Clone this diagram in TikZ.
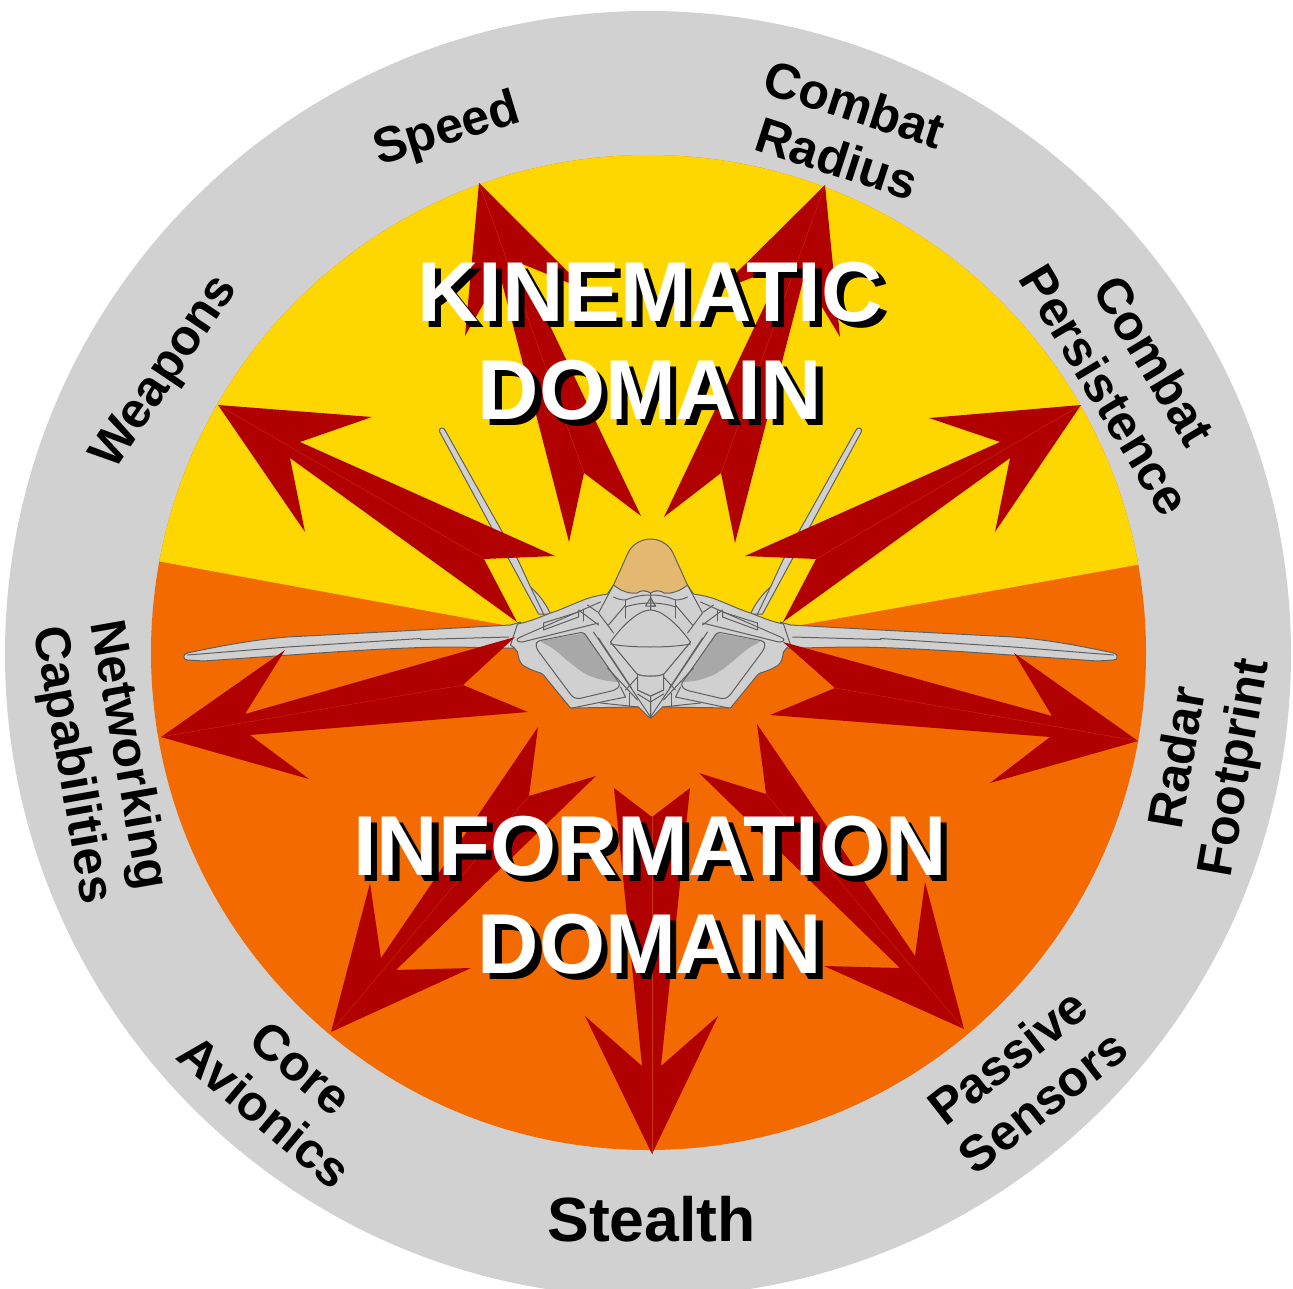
\documentclass[tikz,border=0pt]{standalone}
\usepackage{fontspec}
\setmainfont{Liberation Sans}
\definecolor{ringgray}{HTML}{D1D1D1}
\definecolor{kinyellow}{HTML}{FFD700}
\definecolor{infoorange}{HTML}{F36A00}
\definecolor{arrowred}{HTML}{B00000}
\definecolor{seamcol}{HTML}{C83800}
\definecolor{jetline}{HTML}{606060}
\definecolor{jetfill}{HTML}{D0D0D0}
\definecolor{jetdark}{HTML}{A8A8A8}
\definecolor{canopytan}{HTML}{E3B871}
\tikzset{
  redarrow/.style={fill=arrowred},
  seam/.style={draw=seamcol,line width=0.35pt},
  jetpart/.style={draw=jetline,fill=jetfill,line width=1pt,line join=round},
  jetdetail/.style={draw=jetline,line width=1pt,line join=round,line cap=round},
  ringlabel/.style={font=\fontsize{50}{57}\selectfont\bfseries,align=center,text=black,inner sep=0pt},
  domaintext/.style={font=\fontsize{85}{98}\selectfont\bfseries,align=center,inner sep=0pt}
}
\begin{document}
\begin{tikzpicture}[x=1pt,y=-1pt]
\useasboundingbox (0,0) rectangle (1293,1289);
\fill[white] (0,0) rectangle (1293,1289);
\begin{scope}
\clip (0,0) rectangle (1293,1289);
\fill[ringgray] (648,654) circle[radius=643pt];
\end{scope}
\fill[infoorange] (648.5,652.5) circle[radius=497.5pt];
\begin{scope}
\clip (648.5,652.5) circle[radius=497.5pt];
\fill[kinyellow] (650,652) -- (0,532) -- (0,0) -- (1293,0) -- (1293,537) -- cycle;
\end{scope}
% jet: shapes mirrored around the centre line
\foreach \s in {1,-1}{
\begin{scope}[shift={(650.5,0)},xscale=\s]
  % fin
  \draw[jetpart] (100,614) .. controls (105,603) and (112,594) .. (120,587) -- (132.5,560) -- (205,431)
     .. controls (206,427) and (212,427) .. (211,431.5) -- (112,614) -- cycle;
  \draw[jetdetail] (119.5,588) -- (106.5,615);
  % wing
  \draw[jetpart] (130,622) -- (140,625) -- (230,630) -- (363,637)
     .. controls (400,640) and (435,647) .. (463,653)
     .. controls (468,654) and (468,660) .. (463,660)
     -- (447,661) -- (317,652) .. controls (270,649) and (230,647) .. (197,647)
     -- (150,648) -- (130,648) -- cycle;
  \draw[jetdetail] (142,637) -- (230,639.5) -- (230,638.5) -- (363,647) -- (463,655);
  % body
  \draw[jetpart] (0,592) -- (37,585) -- (43,594)
     .. controls (50,595) and (60,597) .. (67,600)
     .. controls (80,605) and (90,610) .. (100,613)
     .. controls (110,617) and (122,622) .. (133,624)
     -- (140,645) .. controls (135,648) and (135,650) .. (133,652)
     .. controls (132,658) and (131,662) .. (128,665)
     .. controls (122,669) and (116,671) .. (113,672)
     .. controls (109,673) and (108,674) .. (107,675)
     -- (80,708) -- (12,707) -- (3,716) .. controls (1,718) and (-1,718) .. (0,718) -- cycle;
  % strake
  \draw[jetdetail] (50,602) -- (130,637) .. controls (135,639) and (135,642) .. (128,642) -- (52,623);
  \draw[jetdetail] (72,612) -- (107,623) -- (107,630) -- (72,617) -- cycle;
  \draw[jetdetail] (67,610) -- (67,621);
  \draw[jetdetail] (53,612) -- (63,605);
  \draw[jetdetail] (52,625) -- (72,610);
  % intake
  \fill[jetdark] (65.5,633) -- (110,641) .. controls (107,644) and (103,645) .. (100,647)
     .. controls (92,652) and (87,658) .. (80,663)
     .. controls (75,667) and (69,672) .. (63,675)
     .. controls (55,678) and (50,680) .. (43,681) -- (33,682) -- cycle;
  \draw[jetdetail,rounded corners=3pt] (67,632) -- (113,641) -- (115,645) -- (113,650) -- (78,697) -- (73,699) -- (35,690) -- (30,685) -- cycle;
  % centre structure
  \draw[jetdetail] (57,632) -- (0,717);
  \draw[jetdetail] (52,638) -- (19,688);
  \draw[jetdetail] (43,668) -- (13,700);
  \draw[jetdetail] (40,642) -- (13,674);
  \draw[jetdetail] (32,650) -- (10,676);
  \draw[jetdetail] (25,690) -- (13,677);
  \draw[jetdetail] (13,690) -- (0,696);
  \draw[jetdetail] (13,694) -- (0,702);
  \draw[jetdetail] (21,693) -- (21,707);
  \draw[jetdetail] (30,687) -- (25,697) -- (78,708);
  \draw[jetdetail] (12,707) -- (50,703);
  \draw[jetdetail] (37,585) -- (52,613) -- (37,633);
  \draw[jetdetail] (25,605) -- (42,625);
  \draw[jetdetail] (25,600) -- (25,618);
  \draw[jetdetail] (25,600) .. controls (15,596) and (8,595) .. (0,595);
  \draw[jetdetail] (37,597) .. controls (33,599) and (29,600) .. (25,600);
  \draw[jetdetail] (25,607) .. controls (20,605) and (10,603) .. (0,603);
  \draw[jetdetail] (0,598) -- (5,606) -- (-5,606) -- cycle;
\end{scope}}
% dome and tail box
\draw[jetpart] (610.5,642) .. controls (625,622) and (640,610) .. (650.5,610)
   .. controls (661,610) and (676,622) .. (690.5,642)
   -- (664,674) .. controls (660,677) and (641,677) .. (637,674) -- cycle;
\draw[jetdetail] (610.5,644) .. controls (630,648) and (671,648) .. (690.5,644);
\draw[jetpart] (637.5,674) .. controls (641,677) and (660,677) .. (663.5,674) -- (663.5,690) -- (650.5,696) -- (637.5,690) -- cycle;
% canopy
\draw[draw=jetline,fill=canopytan,line width=1pt,line join=round]
  (613.5,585) -- (628,553) .. controls (632,544) and (642,539) .. (650.5,539)
  .. controls (659,539) and (669,544) .. (673,553) -- (687.5,585)
  .. controls (680,591) and (672,594) .. (664,593)
  .. controls (660,590) and (655,590) .. (650.5,593)
  .. controls (646,590) and (641,590) .. (637,593)
  .. controls (629,594) and (621,591) .. (613.5,585) -- cycle;
% arrows
\fill[redarrow] (218,405) -- (372,417) -- (300,442) -- (555,556) -- (484,559) -- (517,622) -- (290,458) -- (305,532) -- cycle;
\draw[seam] (218,405) -- (484,559);
\fill[redarrow] (1081,405) -- (929,418) -- (1000,442) -- (745,556) -- (816,559) -- (783,622) -- (1010,458) -- (995,532) -- cycle;
\draw[seam] (1081,405) -- (816,559);
\fill[redarrow] (479,183) -- (586,290) -- (520,263) -- (641,516) -- (584,473) -- (569,542) -- (500,275) -- (465,336) -- cycle;
\draw[seam] (479,183) -- (584,473);
\fill[redarrow] (825,185) -- (718,291) -- (784,265) -- (664,517) -- (721,473) -- (735,543) -- (804,277) -- (840,337) -- cycle;
\draw[seam] (825,185) -- (721,473);
\fill[redarrow] (161,737) -- (285,650) -- (245,714) -- (515,637) -- (463,685) -- (528,712) -- (250,735) -- (309,779) -- cycle;
\draw[seam] (161,737) -- (463,685);
\fill[redarrow] (1138,741) -- (1014,653) -- (1052,716) -- (783,642) -- (835,688) -- (770,715) -- (1050,737) -- (990,783) -- cycle;
\draw[seam] (1138,741) -- (835,688);
\fill[redarrow] (331,1032) -- (370,883) -- (381,958) -- (538,727) -- (529,796) -- (596,776) -- (396,970) -- (471,968) -- cycle;
\draw[seam] (331,1032) -- (529,796);
\fill[redarrow] (964,1029) -- (925,882) -- (915,956) -- (757,724) -- (766,794) -- (699,773) -- (900,968) -- (824,966) -- cycle;
\draw[seam] (964,1029) -- (766,794);
\fill[redarrow] (652,1154) -- (585,1016) -- (642,1066) -- (614,788) -- (652,817) -- (690,788) -- (661,1066) -- (718,1016) -- cycle;
\draw[seam] (652,1154) -- (652,817);
% domain titles
\node[domaintext,text=black] (kinshadow) at (656.5,347.5) {KINEMATIC\\DOMAIN};
\node[domaintext,text=white] (kin) at (650,341) {KINEMATIC\\DOMAIN};
\node[domaintext,text=black] (infoshadow) at (656.5,901.5) {INFORMATION\\DOMAIN};
\node[domaintext,text=white] (info) at (650,895) {INFORMATION\\DOMAIN};
% ring labels
\node[ringlabel,rotate=17] (speed) at (447,131) {Speed};
\node[ringlabel,rotate=-18] (radius) at (846,131) {Combat\\Radius};
\node[ringlabel,rotate=-59] (persist) at (1130,375) {Combat\\Persistence};
\node[ringlabel,rotate=56] (weapons) at (166,373) {Weapons};
\node[ringlabel,rotate=80] (radar) at (1209,763) {Radar\\Footprint};
\node[ringlabel,rotate=-80] (network) at (99,760) {Networking\\Capabilities};
\node[ringlabel,rotate=-40] (core) at (283,1090) {Core\\Avionics};
\node[ringlabel,rotate=38] (passive) at (1025,1079) {Passive\\Sensors};
\node[ringlabel,font=\fontsize{62.5}{64}\selectfont\bfseries] (stealth) at (651.5,1219) {Stealth};
\end{tikzpicture}
\end{document}
